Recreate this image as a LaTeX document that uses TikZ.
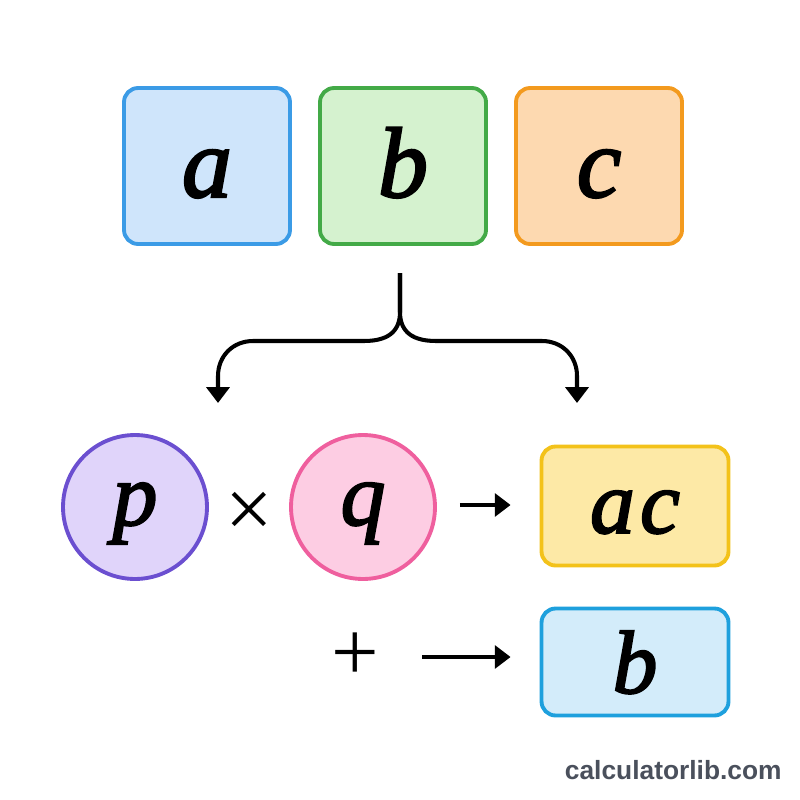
\documentclass[tikz,border=0pt]{standalone}
\usepackage{fontspec}
\newfontfamily\letterfont[FakeBold=2.2]{Liberation Serif}
\newfontfamily\opfont{Liberation Serif}
\newfontfamily\markfont{Liberation Sans}
\usetikzlibrary{arrows.meta}

\definecolor{afill}{HTML}{CFE5FB}
\definecolor{aline}{HTML}{3B9BE6}
\definecolor{bfill}{HTML}{D5F2CF}
\definecolor{bline}{HTML}{43AA47}
\definecolor{cfill}{HTML}{FDD9B0}
\definecolor{cline}{HTML}{F39A1E}
\definecolor{pfill}{HTML}{E0D4FA}
\definecolor{pline}{HTML}{6B4FD0}
\definecolor{qfill}{HTML}{FDCDE3}
\definecolor{qline}{HTML}{EF5F9E}
\definecolor{acfill}{HTML}{FDE9A6}
\definecolor{acline}{HTML}{F3C21A}
\definecolor{sumfill}{HTML}{D3ECFA}
\definecolor{sumline}{HTML}{1EA0DD}
\definecolor{markgray}{HTML}{4A505C}

\tikzset{
  letter/.style={inner sep=0pt, line width=2.2pt,
    font=\letterfont\itshape\fontsize{57}{60}\selectfont},
  smallletter/.style={letter, font=\letterfont\itshape\fontsize{51}{54}\selectfont},
  tile/.style={letter, draw, rounded corners=8pt, text depth=0cm,
    text height=1.24cm, minimum width=3.32cm, minimum height=3.12cm},
  disc/.style={smallletter, draw, circle, text depth=0cm, text height=0.72cm,
    minimum size=2.88cm},
  result/.style={smallletter, draw, rounded corners=8pt, text depth=0cm,
    minimum width=3.74cm},
  oper/.style={inner sep=0pt, font=\opfont\fontsize{48}{52}\selectfont},
  arr/.style={line width=2.3pt, -{Triangle[length=9pt,width=13pt]}}
}

\begin{document}
\begin{tikzpicture}[x=0.02cm, y=-0.02cm]
  \useasboundingbox[fill=white] (0, 0) rectangle (800, 800);
  % top row
  \node[tile, fill=afill, draw=aline] (a) at (207, 166) {a};
  \node[tile, fill=bfill, draw=bline] (b) at (403, 166) {b};
  \node[tile, fill=cfill, draw=cline] (c) at (599, 166) {c};
  % fork
  \coordinate (fork) at (400, 273);
  \coordinate (lefttip) at (218, 403);
  \coordinate (righttip) at (577, 403);
  \draw[arr] (fork) -- (400, 312) .. controls (400, 333) and (386, 341) .. (364, 341)
    -- (253, 341) .. controls (233, 341) and (218, 356) .. (218, 376) -- (lefttip);
  \draw[arr] (fork) -- (400, 312) .. controls (400, 333) and (414, 341) .. (436, 341)
    -- (542, 341) .. controls (562, 341) and (577, 356) .. (577, 376) -- (righttip);
  % middle row
  \node[disc, fill=pfill, draw=pline] (p) at (135, 507) {p};
  \node[oper] (times) at (249, 515) {×};
  \node[disc, fill=qfill, draw=qline] (q) at (363, 507) {q};
  \node[result, fill=acfill, draw=acline, text height=1.08cm,
    minimum height=2.38cm] (ac) at (635, 506) {a\kern3pt c};
  \draw[arr, shorten <=0.46cm, shorten >=0.58cm] (q.east |- 0, 505) -- (ac.west |- 0, 505);
  % bottom row
  \node[oper] (plus) at (355, 657) {+};
  \node[result, fill=sumfill, draw=sumline, text height=1.24cm,
    minimum height=2.14cm] (sum) at (635, 662) {b};
  \draw[arr, shorten <=0.86cm, shorten >=0.58cm] (plus.east) -- (plus.east -| sum.west);
  % mark
  \node[anchor=base east, inner sep=0pt, text=markgray,
    font=\markfont\bfseries\fontsize{15}{18}\selectfont] (site) at (782, 779) {calculatorlib.com};
\end{tikzpicture}
\end{document}
